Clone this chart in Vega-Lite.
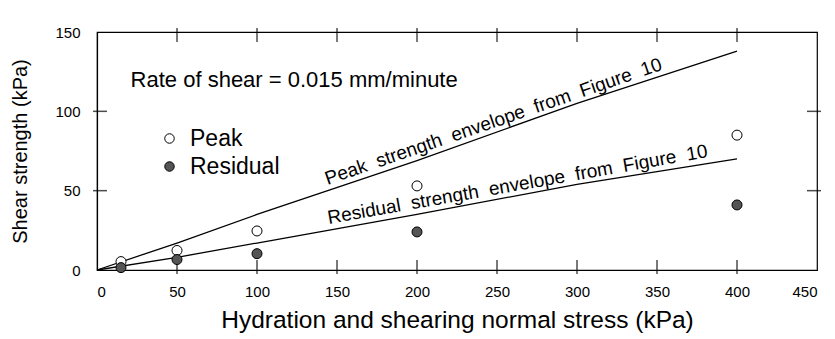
{
  "$schema": "https://vega.github.io/schema/vega-lite/v6.json",
  "width": 720,
  "height": 238,
  "autosize": {"type": "none"},
  "padding": {"left": 97, "top": 32, "right": 18, "bottom": 69},
  "background": "white",
  "config": {
    "font": "Liberation Sans",
    "view": {"stroke": "black", "strokeWidth": 1.2},
    "axis": {
      "grid": false,
      "domainColor": "black",
      "domainWidth": 1.2,
      "labelColor": "black",
      "labelFontSize": 15,
      "titleColor": "black",
      "titleFontSize": 20,
      "titleFontWeight": "normal"
    }
  },
  "datasets": {
    "envelopes": [
      {"envelope": "Peak", "stress": 0, "strength": 0},
      {"envelope": "Peak", "stress": 50, "strength": 17},
      {"envelope": "Peak", "stress": 100, "strength": 35},
      {"envelope": "Peak", "stress": 200, "strength": 69},
      {"envelope": "Peak", "stress": 300, "strength": 105},
      {"envelope": "Peak", "stress": 400, "strength": 138},
      {"envelope": "Residual", "stress": 0, "strength": 0},
      {"envelope": "Residual", "stress": 50, "strength": 8},
      {"envelope": "Residual", "stress": 100, "strength": 17},
      {"envelope": "Residual", "stress": 200, "strength": 35},
      {"envelope": "Residual", "stress": 300, "strength": 54},
      {"envelope": "Residual", "stress": 400, "strength": 70}
    ],
    "tests": [
      {"type": "Peak", "stress": 15, "strength": 5.3},
      {"type": "Peak", "stress": 50, "strength": 12.3},
      {"type": "Peak", "stress": 100, "strength": 24.6},
      {"type": "Peak", "stress": 200, "strength": 53},
      {"type": "Peak", "stress": 400, "strength": 85},
      {"type": "Residual", "stress": 15, "strength": 1.5},
      {"type": "Residual", "stress": 50, "strength": 6.6},
      {"type": "Residual", "stress": 100, "strength": 10.3},
      {"type": "Residual", "stress": 200, "strength": 24},
      {"type": "Residual", "stress": 400, "strength": 41}
    ],
    "labels": [
      {"text": "Peak\u00a0\u00a0strength\u00a0\u00a0envelope\u00a0\u00a0from\u00a0\u00a0Figure\u00a0\u00a010", "stress": 250, "strength": 87, "angle": -19},
      {"text": "Residual\u00a0\u00a0strength\u00a0\u00a0envelope\u00a0\u00a0from\u00a0\u00a0Figure\u00a0\u00a010", "stress": 264, "strength": 47, "angle": -10}
    ],
    "note": [
      {"text": "Rate of shear = 0.015 mm/minute", "stress": 21, "strength": 120}
    ],
    "xticks": [
      {"stress": 50}, {"stress": 100}, {"stress": 150}, {"stress": 200},
      {"stress": 250}, {"stress": 300}, {"stress": 350}, {"stress": 400}
    ],
    "yticks": [
      {"strength": 50}, {"strength": 100}
    ]
  },
  "layer": [
    {
      "data": {"name": "envelopes"},
      "mark": {"type": "line", "color": "black", "strokeWidth": 1.3},
      "encoding": {
        "x": {"field": "stress", "type": "quantitative", "scale": {"domain": [0, 450], "nice": false},
              "axis": {"orient": "bottom", "values": [0, 50, 100, 150, 200, 250, 300, 350, 400, 450], "ticks": false, "labelPadding": 14, "title": "Hydration and shearing normal stress (kPa)", "titleFontSize": 24.5, "titlePadding": 9}},
        "y": {"field": "strength", "type": "quantitative", "scale": {"domain": [0, 150], "nice": false},
              "axis": {"orient": "left", "values": [0, 50, 100, 150], "ticks": false, "labelPadding": 17, "title": "Shear strength (kPa)", "titlePadding": 24}},
        "detail": {"field": "envelope"}
      }
    },
    {
      "data": {"name": "xticks"},
      "mark": {"type": "tick", "color": "black", "thickness": 1.5, "size": 14, "yOffset": -3},
      "encoding": {
        "x": {"field": "stress", "type": "quantitative"},
        "y": {"datum": 0, "type": "quantitative"}
      }
    },
    {
      "data": {"name": "xticks"},
      "mark": {"type": "tick", "color": "black", "thickness": 1.5, "size": 14, "yOffset": 3},
      "encoding": {
        "x": {"field": "stress", "type": "quantitative"},
        "y": {"datum": 150, "type": "quantitative"}
      }
    },
    {
      "data": {"name": "yticks"},
      "mark": {"type": "tick", "color": "black", "thickness": 1.5, "size": 14, "orient": "horizontal", "xOffset": 3},
      "encoding": {
        "y": {"field": "strength", "type": "quantitative"},
        "x": {"datum": 0, "type": "quantitative"}
      }
    },
    {
      "data": {"name": "yticks"},
      "mark": {"type": "tick", "color": "black", "thickness": 1.5, "size": 14, "orient": "horizontal", "xOffset": -3},
      "encoding": {
        "y": {"field": "strength", "type": "quantitative"},
        "x": {"datum": 450, "type": "quantitative"}
      }
    },
    {
      "data": {"name": "tests"},
      "mark": {"type": "circle", "size": 100, "stroke": "black", "strokeWidth": 1, "opacity": 1},
      "encoding": {
        "x": {"field": "stress", "type": "quantitative"},
        "y": {"field": "strength", "type": "quantitative"},
        "fill": {"field": "type", "type": "nominal",
                 "scale": {"domain": ["Peak", "Residual"], "range": ["white", "#555555"]},
                 "legend": {"orient": "none", "legendX": 61, "legendY": 95, "title": null,
                            "labelFontSize": 23, "labelColor": "black", "symbolType": "circle",
                            "symbolSize": 90, "symbolStrokeColor": "black", "symbolStrokeWidth": 1,
                            "rowPadding": 4, "labelOffset": 9}}
      }
    },
    {
      "data": {"name": "labels"},
      "mark": {"type": "text", "fontSize": 19, "align": "center", "baseline": "alphabetic", "dy": -5, "color": "black"},
      "encoding": {
        "x": {"field": "stress", "type": "quantitative"},
        "y": {"field": "strength", "type": "quantitative"},
        "text": {"field": "text"},
        "angle": {"field": "angle", "type": "quantitative", "scale": null}
      }
    },
    {
      "data": {"name": "note"},
      "mark": {"type": "text", "fontSize": 22, "align": "left", "baseline": "middle", "color": "black"},
      "encoding": {
        "x": {"field": "stress", "type": "quantitative"},
        "y": {"field": "strength", "type": "quantitative"},
        "text": {"field": "text"}
      }
    }
  ]
}
